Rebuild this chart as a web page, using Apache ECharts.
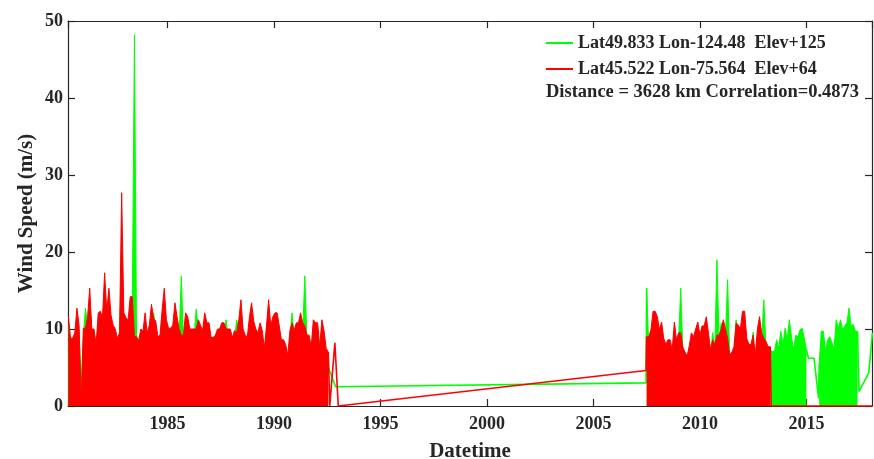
<!DOCTYPE html>
<html>
<head>
<meta charset="utf-8">
<title>Wind Speed</title>
<script src="https://cdn.jsdelivr.net/npm/echarts@6/dist/echarts.min.js"></script>
<style>
  html, body { margin: 0; padding: 0; background: #fff; }
  #chart { width: 874px; height: 459px; }
</style>
</head>
<body>
<div id="chart"></div>
<script>
// station names (legend)
const greenName = 'Lat49.833 Lon-124.48  Elev+125'
const redName = 'Lat45.522 Lon-75.564  Elev+64'
const infoText = 'Distance = 3628 km Correlation=0.4873'

// dense records are sampled every 0.1 year, values in m/s
const step = 0.1
const seg1Start = 1980.35
const seg2Start = 2007.5
const seg3Start = 2015.6

const red1 = [11.6, 8.8, 8.8, 9.5, 12.7, 10.5, 0.5, 10.1, 10.1, 11.6,
  15.3, 10.0, 10.0, 8.0, 12.1, 12.3, 11.5, 17.3, 12.3, 15.3,
  11.8, 10.5, 10.0, 8.8, 9.5, 27.7, 12.1, 11.5, 11.1, 14.2,
  14.2, 9.0, 9.0, 8.5, 10.0, 9.7, 12.1, 9.5, 10.5, 13.2,
  11.4, 11.0, 9.0, 9.2, 12.5, 15.3, 11.2, 10.1, 10.1, 10.5,
  13.4, 11.6, 10.0, 9.2, 9.2, 12.1, 11.6, 10.0, 10.0, 10.0,
  10.0, 11.2, 10.5, 9.8, 12.1, 10.8, 10.8, 8.9, 8.9, 9.2,
  10.0, 10.0, 10.8, 10.8, 10.0, 10.0, 10.0, 8.9, 9.8, 9.5,
  11.2, 13.8, 10.0, 9.2, 9.0, 11.6, 13.4, 11.0, 10.0, 9.5,
  10.8, 9.8, 7.5, 10.4, 13.8, 10.4, 11.6, 12.1, 12.1, 10.4,
  8.6, 8.6, 8.0, 6.6, 9.8, 10.8, 9.8, 10.8, 10.8, 12.1,
  10.8, 10.4, 9.2, 9.2, 7.7, 11.2, 10.8, 10.8, 7.7, 11.2,
  9.8, 7.5, 7.0]

const green1 = [10.5, 8.0, 7.5, 8.8, 11.5, 9.5, 3.0, 9.0, 12.7, 10.5,
  13.5, 9.0, 9.2, 7.0, 11.0, 11.2, 10.5, 15.0, 11.0, 13.5,
  10.8, 9.5, 9.0, 8.0, 8.5, 20.5, 11.0, 10.2, 10.0, 12.5,
  13.0, 48.2, 8.0, 7.8, 9.0, 8.8, 11.0, 8.5, 9.5, 12.0,
  12.1, 10.0, 8.2, 8.5, 11.0, 13.8, 10.0, 9.2, 9.0, 9.5,
  12.0, 10.5, 9.0, 16.9, 8.4, 11.0, 10.5, 9.0, 9.2, 9.0,
  12.6, 10.0, 9.5, 8.8, 11.0, 9.8, 9.6, 8.0, 8.2, 8.4,
  9.0, 9.2, 9.8, 9.6, 11.2, 9.0, 9.2, 8.0, 8.8, 11.2,
  10.0, 12.5, 9.0, 8.4, 8.2, 10.5, 12.0, 10.0, 9.2, 8.6,
  9.8, 8.8, 6.8, 9.4, 12.5, 9.5, 10.5, 11.0, 11.0, 9.5,
  7.8, 7.8, 7.2, 6.0, 8.8, 12.1, 8.8, 9.8, 9.8, 11.0,
  9.8, 16.9, 8.4, 8.2, 7.0, 10.2, 9.8, 9.8, 7.0, 10.2,
  8.8, 6.8, 5.0]

const red2 = [9.0, 9.0, 9.9, 12.3, 12.3, 11.6, 9.9, 10.9, 8.8, 8.0,
  8.6, 8.6, 7.3, 10.9, 8.6, 9.5, 9.5, 7.6, 7.0, 6.5,
  7.8, 9.5, 9.0, 10.0, 10.9, 9.2, 10.4, 10.4, 11.6, 9.5,
  7.3, 8.6, 8.0, 9.2, 9.2, 10.0, 11.2, 10.0, 8.8, 6.6,
  7.0, 7.7, 10.8, 10.5, 10.0, 12.3, 12.3, 8.8, 8.0, 8.0,
  9.2, 6.6, 10.0, 11.6, 9.5, 8.8, 8.4, 7.7, 7.7]

const green2 = [15.3, 7.5, 8.5, 10.5, 11.0, 10.5, 8.5, 9.5, 8.0, 7.0,
  7.5, 7.8, 6.5, 9.5, 7.5, 8.5, 15.3, 7.0, 6.2, 6.0,
  7.0, 8.5, 8.0, 9.0, 10.0, 8.5, 9.5, 9.5, 10.5, 8.5,
  6.8, 9.5, 7.5, 19.0, 8.5, 10.8, 10.5, 9.0, 16.4, 6.0,
  6.5, 7.0, 11.2, 9.5, 9.0, 11.5, 11.5, 8.0, 7.5, 7.5,
  9.6, 6.0, 9.0, 10.5, 8.5, 13.8, 7.8, 7.3, 7.3,
  7.1, 7.1, 8.6, 7.5, 9.7, 8.0, 10.1, 8.6, 11.2, 9.0,
  7.3, 9.2, 9.0, 9.9, 10.1, 8.8, 7.3]

const green3 = [5.5, 9.7, 9.7, 7.0, 8.6, 9.0, 8.2, 7.5, 11.2, 10.1,
  11.2, 9.9, 10.4, 10.8, 12.7, 10.4, 10.6, 9.7, 9.7]

// sparse stretches between the dense records: [year, m/s]
const redGap = [[1992.62, 0], [1992.86, 8.2], [1993.02, 0], [2007.47, 4.6]]
const redTail = [[2013.35, 0], [2018.1, 0]]
const greenGap1 = [[1992.62, 4.9], [1992.9, 2.5], [2007.47, 3.0]]
const greenGap2 = [[2015.1, 6.2], [2015.36, 6.2], [2015.57, 1.0]]
const greenTail = [[2017.47, 1.9], [2017.93, 4.3], [2018.1, 9.5]]

const xMin = 1980.33
const xMax = 2018.08
const GREEN = '#00ff00'
const RED = '#ff0000'
const FONT = 'Liberation Serif'
const INK = '#262626'

const toSeries = (start, vals) => vals.map((v, i) => [+(start + i * step).toFixed(2), v])

const g1 = toSeries(seg1Start, green1)
const g2 = toSeries(seg2Start, green2)
const g3 = toSeries(seg3Start, green3)
const r1 = toSeries(seg1Start, red1)
const r2 = toSeries(seg2Start, red2)

// z keeps every red mark (lines and fills) above every green one
const dense = (name, color, data, z) => ({
  name,
  type: 'line',
  z,
  data,
  symbol: 'none',
  lineStyle: { width: 1, color },
  itemStyle: { color },
  areaStyle: { color, opacity: 1 },
  animation: false
})

const thin = (name, color, data, z) => ({
  name,
  type: 'line',
  z,
  data,
  symbol: 'none',
  lineStyle: { width: 1.6, color },
  itemStyle: { color },
  animation: false
})

const last = arr => arr[arr.length - 1]

const chart = echarts.init(document.getElementById('chart'))

const xAxisBase = {
  type: 'value',
  min: xMin,
  max: xMax,
  splitNumber: 8,
  splitLine: { show: false },
  axisLine: { onZero: false, lineStyle: { color: INK, width: 1.2 } },
  axisTick: { inside: true, length: 7, lineStyle: { color: INK, width: 1.2 } }
}

const yAxisBase = {
  type: 'value',
  min: 0,
  max: 50,
  interval: 10,
  splitLine: { show: false },
  axisLine: { show: true, lineStyle: { color: INK, width: 1.2 } },
  axisTick: { show: true, inside: true, length: 7, lineStyle: { color: INK, width: 1.2 } }
}

const option = {
  backgroundColor: '#fff',
  animation: false,
  grid: { left: 68, right: 2, top: 21, bottom: 53, outerBoundsMode: 'none' },
  title: {
    text: infoText,
    left: 546,
    top: 83,
    padding: 0,
    textStyle: { fontFamily: FONT, fontWeight: 'bold', fontSize: 18.5, color: INK }
  },
  legend: {
    data: [greenName, redName],
    orient: 'vertical',
    left: 546,
    top: 34,
    padding: 0,
    itemWidth: 27,
    itemHeight: 2,
    itemGap: 8,
    icon: 'rect',
    textStyle: { fontFamily: FONT, fontWeight: 'bold', fontSize: 18, color: INK }
  },
  xAxis: [
    {
      ...xAxisBase,
      position: 'bottom',
      name: 'Datetime',
      nameLocation: 'middle',
      nameGap: 35,
      nameMoveOverlap: false,
      nameTextStyle: { fontFamily: FONT, fontWeight: 'bold', fontSize: 21, color: INK },
      axisLabel: {
        showMinLabel: false,
        showMaxLabel: false,
        margin: 9,
        formatter: v => String(v),
        fontFamily: FONT,
        fontWeight: 'bold',
        fontSize: 18,
        color: INK
      }
    },
    { ...xAxisBase, position: 'top', axisLabel: { show: false } }
  ],
  yAxis: [
    {
      ...yAxisBase,
      position: 'left',
      name: 'Wind Speed (m/s)',
      nameLocation: 'middle',
      nameGap: 31,
      nameMoveOverlap: false,
      nameTextStyle: { fontFamily: FONT, fontWeight: 'bold', fontSize: 21, color: INK },
      axisLabel: { margin: 5, fontFamily: FONT, fontWeight: 'bold', fontSize: 18, color: INK }
    },
    { ...yAxisBase, position: 'right', axisLabel: { show: false } }
  ],
  series: [
    dense(greenName, GREEN, g1, 2),
    thin(greenName, GREEN, [last(g1), ...greenGap1, g2[0]], 2),
    dense(greenName, GREEN, g2, 2),
    thin(greenName, GREEN, [last(g2), ...greenGap2, g3[0]], 2),
    dense(greenName, GREEN, g3, 2),
    thin(greenName, GREEN, [last(g3), ...greenTail], 2),
    dense(redName, RED, r1, 3),
    thin(redName, RED, [last(r1), ...redGap, r2[0]], 3),
    dense(redName, RED, r2, 3),
    thin(redName, RED, [last(r2), ...redTail], 3)
  ]
}

chart.setOption(option)
window.addEventListener('resize', () => chart.resize())
</script>
</body>
</html>
